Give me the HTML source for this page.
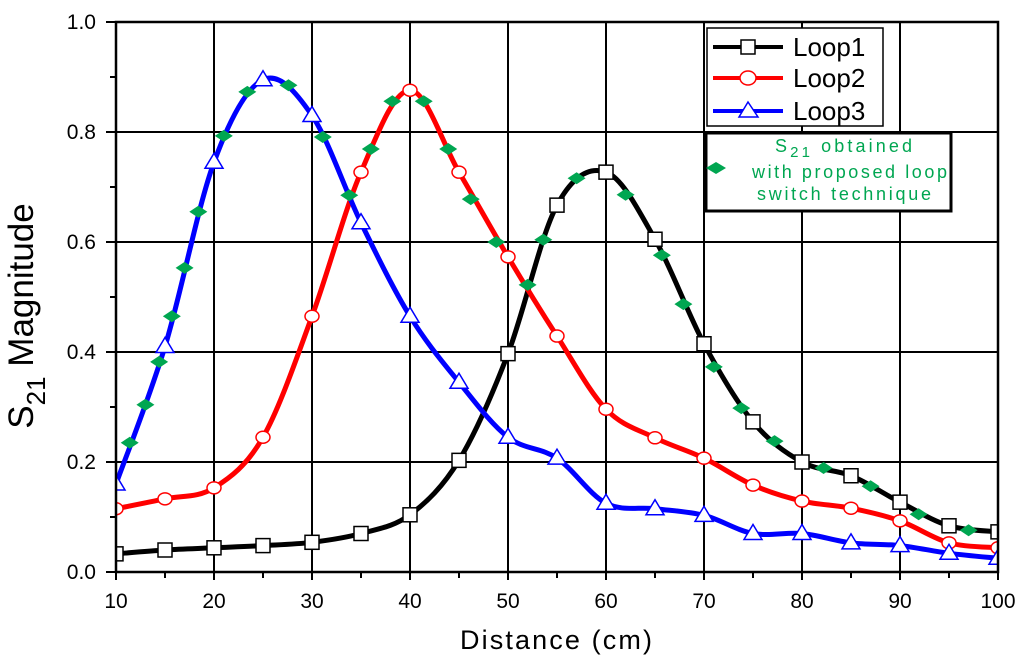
<!DOCTYPE html>
<html><head><meta charset="utf-8"><style>
body{margin:0;background:#fff}
svg text{font-family:"Liberation Sans",Arial,sans-serif}
</style></head><body>
<svg id="chart" width="1024" height="661" xmlns="http://www.w3.org/2000/svg">
<defs><clipPath id="clip"><rect x="116" y="22" width="882" height="550"/></clipPath></defs>
<g id="grid"></g>
<g id="series" clip-path="url(#clip)"></g>
<rect x="116" y="22" width="882" height="550" fill="none" stroke="#000" stroke-width="2.5"/>
<g id="axes"></g>
<text x="460" y="649" font-size="27" textLength="192" lengthAdjust="spacing">Distance (cm)</text>
<text transform="translate(33,316) rotate(-90)" font-size="35" text-anchor="middle">S<tspan font-size="26" dy="12">21</tspan><tspan dy="-12"> Magnitude</tspan></text>
<g>
<rect x="707" y="28" width="176" height="98" fill="#fff" stroke="#000" stroke-width="1.5"/>
<g><line x1="713" y1="47" x2="783" y2="47" stroke="#000" stroke-width="4"/><rect x="741" y="40" width="14" height="14" fill="#fff" stroke="#000" stroke-width="1.5"/><text x="793" y="56" font-size="26">Loop1</text></g>
<g><line x1="713" y1="78" x2="783" y2="78" stroke="#f00" stroke-width="4"/><ellipse cx="748" cy="78" rx="8" ry="7" fill="#fff" stroke="#f00" stroke-width="1.5"/><text x="793" y="87" font-size="26">Loop2</text></g>
<g><line x1="713" y1="111" x2="783" y2="111" stroke="#00f" stroke-width="4"/><path d="M739,117 L748,102 L758,117 Z" fill="#fff" stroke="#00f" stroke-width="1.5"/><text x="793" y="120" font-size="26">Loop3</text></g>
</g>
<g>
<rect x="706" y="133" width="245" height="78" fill="#fff" stroke="#000" stroke-width="3"/>
<path d="M706,168 L716,162 L726,168 L716,174 Z" fill="#00a651"/>
<text x="775" y="152" font-size="18" fill="#00a651" textLength="137" lengthAdjust="spacing">S<tspan font-size="15" dy="5">21</tspan><tspan dy="-5"> obtained</tspan></text>
<text x="752" y="178" font-size="18" fill="#00a651" textLength="195" lengthAdjust="spacing">with proposed loop</text>
<text x="757" y="200" font-size="18" fill="#00a651" textLength="174" lengthAdjust="spacing">switch technique</text>
</g>
</svg>
<script>
const xTicks=[10,20,30,40,50,60,70,80,90,100];
const yTicks=[0,0.2,0.4,0.6,0.8,1.0];
const loop1X=[10,15,20,25,30,35,40,45,50,55,60,65,70,75,80,85,90,95,100];
const loop1Y=[0.033,0.04,0.044,0.048,0.054,0.07,0.104,0.203,0.397,0.667,0.727,0.605,0.415,0.273,0.2,0.175,0.127,0.084,0.073];
const loop2X=[10,15,20,25,30,35,40,45,50,55,60,65,70,75,80,85,90,95,100];
const loop2Y=[0.115,0.133,0.153,0.245,0.465,0.727,0.876,0.727,0.573,0.429,0.296,0.244,0.207,0.158,0.129,0.116,0.093,0.053,0.044];
const loop3X=[10,15,20,25,30,35,40,45,50,55,60,65,70,75,80,85,90,95,100];
const loop3Y=[0.16,0.41,0.745,0.895,0.83,0.635,0.465,0.345,0.245,0.207,0.125,0.115,0.103,0.07,0.07,0.053,0.048,0.034,0.025];
const propX=[11.4,13,14.4,15.7,17,18.4,21,23.4,27.6,31.1,33.8,36,38.2,41.4,43.9,46.2,48.8,52,53.6,57,62,65.7,67.9,71,73.8,77.2,82.2,87,91.9,97];
const propY=[0.235,0.304,0.382,0.465,0.553,0.655,0.793,0.873,0.885,0.791,0.685,0.769,0.856,0.856,0.769,0.678,0.6,0.522,0.604,0.716,0.686,0.576,0.487,0.373,0.298,0.238,0.189,0.156,0.105,0.076];
const NS="http://www.w3.org/2000/svg";
const sx=v=>116+(v-10)*9.8, sy=v=>572-v*550;
function mk(tag,attrs,parent){const e=document.createElementNS(NS,tag);for(const k in attrs)e.setAttribute(k,attrs[k]);parent.appendChild(e);return e;}
const grid=document.getElementById('grid'),axes=document.getElementById('axes'),ser=document.getElementById('series');
xTicks.forEach(t=>{
 const l=mk('line',{x1:sx(t),x2:sx(t),y1:22,y2:580,stroke:'#000','stroke-width':2},grid);
 
 
 const tx=mk('text',{x:sx(t),y:608,'font-size':21,'text-anchor':'middle'},axes);tx.textContent=t;
 
 
 if(t<100){const m=mk('line',{x1:sx(t+5),x2:sx(t+5),y1:572,y2:578,stroke:'#000','stroke-width':2},axes);
 
 }
});
yTicks.forEach(t=>{
 const l=mk('line',{x1:106,x2:998,y1:sy(t),y2:sy(t),stroke:'#000','stroke-width':2},grid);
 
 
 const tx=mk('text',{x:96,y:sy(t)+7,'font-size':21,'text-anchor':'end'},axes);tx.textContent=t.toFixed(1);
 
 
 if(t<1){const m=mk('line',{x1:110,x2:116,y1:sy(t+0.1),y2:sy(t+0.1),stroke:'#000','stroke-width':2},axes);
 
 }
});
function smooth(xs,ys){const p=xs.map((x,i)=>[sx(x),sy(ys[i])]);let d=`M${p[0][0]},${p[0][1]}`;
 for(let i=0;i<p.length-1;i++){const p0=p[i-1]||p[i],p1=p[i],p2=p[i+1],p3=p[i+2]||p2;
  d+=` C${p1[0]+(p2[0]-p0[0])/6},${p1[1]+(p2[1]-p0[1])/6} ${p2[0]-(p3[0]-p1[0])/6},${p2[1]-(p3[1]-p1[1])/6} ${p2[0]},${p2[1]}`;}
 return d;}
[[loop1X,loop1Y,'#000','loop1'],[loop2X,loop2Y,'#f00','loop2'],[loop3X,loop3Y,'#00f','loop3']].forEach(([xs,ys,c,n])=>{
 const p=mk('path',{d:smooth(xs,ys),fill:'none',stroke:c,'stroke-width':5},ser);
 
 
});
const mg=(n)=>{const g=mk('g',{},ser);return g;};
const g1=mg('loop1-markers'),g2=mg('loop2-markers'),g3=mg('loop3-markers'),g4=mg('proposed-markers');
loop1X.forEach((x,i)=>{const e=mk('rect',{x:sx(x)-7,y:sy(loop1Y[i])-7,width:14,height:14,fill:'#fff',stroke:'#000','stroke-width':1.5},g1);
 
 });
loop2X.forEach((x,i)=>{const e=mk('ellipse',{cx:sx(x),cy:sy(loop2Y[i]),rx:7,ry:6,fill:'#fff',stroke:'#f00','stroke-width':1.5},g2);
 
 });
loop3X.forEach((x,i)=>{const X=sx(x),Y=sy(loop3Y[i]);const e=mk('path',{d:`M${X-9},${Y+6} L${X},${Y-9} L${X+9},${Y+6} Z`,fill:'#fff',stroke:'#00f','stroke-width':1.5},g3);
 
 });
propX.forEach((x,i)=>{const X=sx(x),Y=sy(propY[i]);const e=mk('path',{d:`M${X-9},${Y} L${X},${Y-6} L${X+9},${Y} L${X},${Y+6} Z`,fill:'#00a651'},g4);
 
 });
</script>
</body></html>
